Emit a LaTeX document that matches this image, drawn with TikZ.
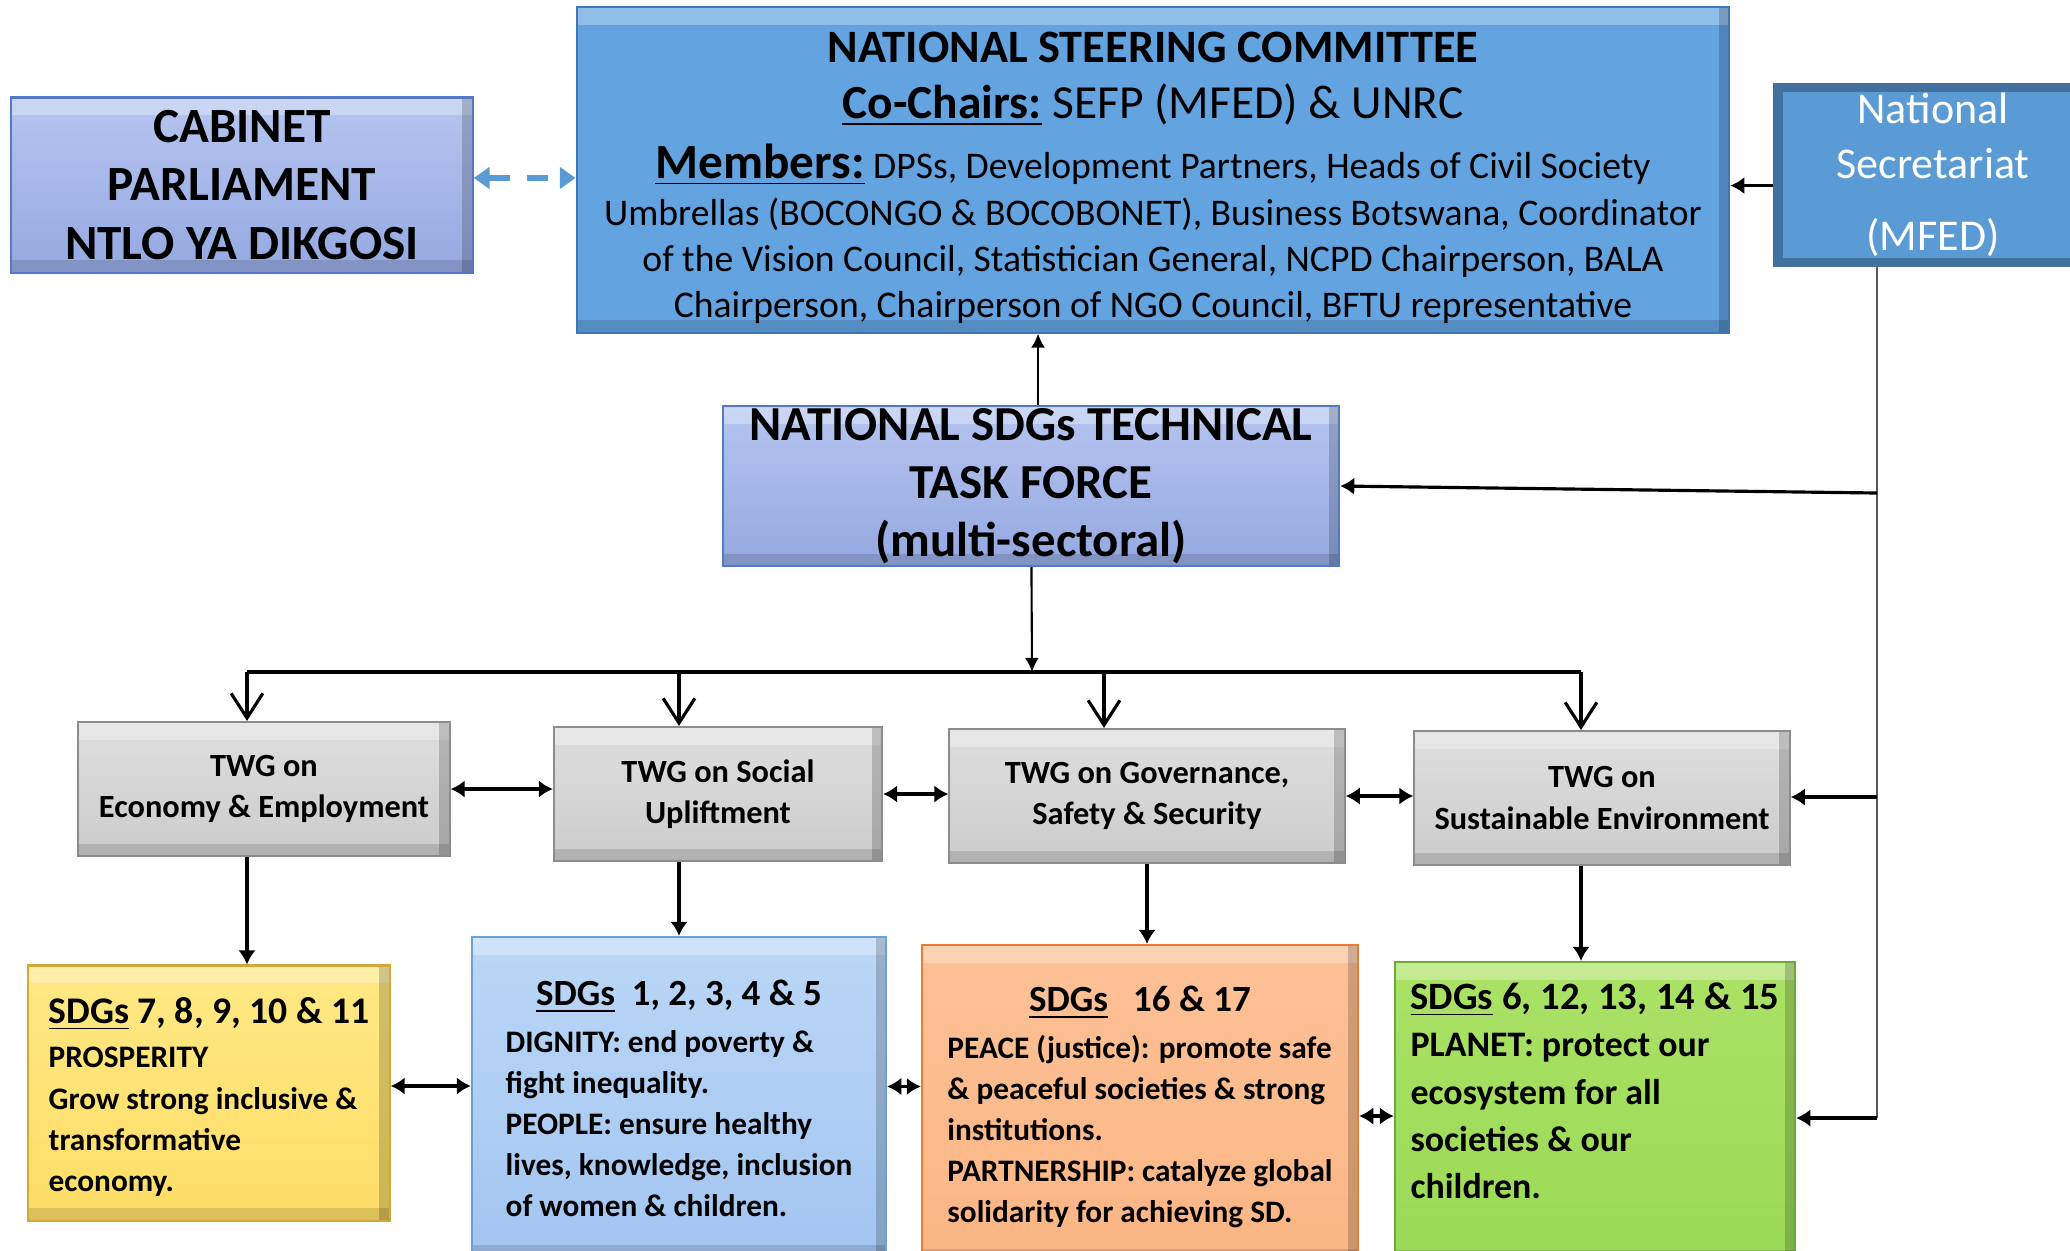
\documentclass[tikz,border=0pt]{standalone}
\usepackage{fontspec}
\setmainfont{Carlito}
\usetikzlibrary{arrows.meta}
\definecolor{cabtop}{HTML}{B6C5F0}
\definecolor{cabbot}{HTML}{94A9E1}
\definecolor{cabline}{HTML}{5279C6}
\definecolor{nscfill}{HTML}{62A3E0}
\definecolor{nscline}{HTML}{3F77B5}
\definecolor{secfill}{HTML}{5B9BD5}
\definecolor{secline}{HTML}{41719C}
\definecolor{twgtop}{HTML}{DEDEDE}
\definecolor{twgbot}{HTML}{CCCCCC}
\definecolor{twgline}{HTML}{8C8C8C}
\definecolor{yeltop}{HTML}{FFE884}
\definecolor{yelbot}{HTML}{FDDD66}
\definecolor{yelline}{HTML}{D4A836}
\definecolor{skytop}{HTML}{BBD7F7}
\definecolor{skybot}{HTML}{A2C5F0}
\definecolor{skyline}{HTML}{6E9FD8}
\definecolor{oratop}{HTML}{FDC196}
\definecolor{orabot}{HTML}{FBB584}
\definecolor{oraline}{HTML}{EC7C34}
\definecolor{grntop}{HTML}{ABE266}
\definecolor{grnbot}{HTML}{99D955}
\definecolor{grnline}{HTML}{6CA93C}
\definecolor{dashblue}{HTML}{5B9BD5}
\tikzstyle{bevel}=[path picture={
  \fill[white,opacity=.3] (path picture bounding box.north west) rectangle ([yshift=-5pt]path picture bounding box.north east);
  \fill[black,opacity=.18] ([xshift=-3pt]path picture bounding box.north east) rectangle (path picture bounding box.south east);
  \fill[black,opacity=.13] (path picture bounding box.south west) rectangle ([yshift=3.5pt]path picture bounding box.south east);
}]
\tikzstyle{box}=[rectangle, draw, line width=0.6pt, inner sep=0pt, bevel]
\tikzstyle{top}=[box, top color=cabtop, bottom color=cabbot, draw=cabline, align=center]
\tikzstyle{nscbox}=[box, fill=nscfill, draw=nscline, align=center]
\tikzstyle{secbox}=[rectangle, fill=secfill, draw=secline, line width=2.8pt, inner sep=0pt, align=center, text=white]
\tikzstyle{twg}=[box, top color=twgtop, bottom color=twgbot, draw=twgline, align=center,
  minimum height=1.34cm, font=\bfseries\fontsize{9.2}{11.7}\selectfont]
\tikzstyle{goal}=[box, font=\bfseries\fontsize{8.9}{11.7}\selectfont]
\tikzstyle{dbl}=[{Latex[length=4pt,width=5pt]}-{Latex[length=4pt,width=5pt]}, line width=1.1pt]
\tikzstyle{drop}=[-{Straight Barb[length=7pt,width=9pt]}, line width=0.9pt]
\tikzstyle{feed}=[-{Latex[length=4pt,width=5pt]}, line width=0.9pt]

\begin{document}
\begin{tikzpicture}[x=0.01cm,y=-0.01cm]
\useasboundingbox (0,0) rectangle (2070,1250);

\node[top, minimum width=4.61cm, minimum height=1.75cm, font=\bfseries\fontsize{14}{16.5}\selectfont] (cab) at (242,185) {CABINET\\PARLIAMENT\\NTLO YA DIKGOSI};
\node[nscbox, minimum width=11.52cm, minimum height=3.25cm, font=\fontsize{10.7}{13}\selectfont] (nsc) at (1153,170)
  {\rule{0pt}{13pt}{\bfseries\fontsize{13.2}{15}\selectfont NATIONAL STEERING COMMITTEE}\\[3pt]
   {\fontsize{13.5}{15}\selectfont\underline{\textbf{Co-Chairs:}} SEFP (MFED) \& UNRC}\\[4pt]
   {\fontsize{14}{15}\selectfont\underline{\textbf{Members:}}} DPSs, Development Partners, Heads of Civil Society\\[0.5pt]
   Umbrellas (BOCONGO \& BOCOBONET), Business Botswana, Coordinator\\
   of the Vision Council, Statistician General, NCPD Chairperson, BALA\\
   Chairperson, Chairperson of NGO Council, BFTU representative};
\node[secbox, minimum width=3.1cm, minimum height=1.75cm, font=\fontsize{12.5}{15.5}\selectfont] (sec) at (1933,175) {National\\Secretariat\\[5pt](MFED)};
\node[top, minimum width=6.16cm, minimum height=1.6cm, font=\bfseries\fontsize{13.9}{16.5}\selectfont] (ttf) at (1031,486) {NATIONAL SDGs TECHNICAL\\TASK FORCE\\(multi-sectoral)};

\node[twg, minimum width=3.71cm] (w1) at (264,789) {TWG on\\Economy \& Employment};
\node[twg, minimum width=3.28cm] (w2) at (718,794) {TWG on Social\\Upliftment};
\node[twg, minimum width=3.95cm] (w3) at (1147,796) {TWG on Governance,\\Safety \& Security};
\node[twg, minimum width=3.75cm] (w4) at (1602,798) {TWG on\\Sustainable Environment};

\node[goal, top color=yeltop, bottom color=yelbot, draw=yelline, minimum width=3.61cm, minimum height=2.55cm] (g1) at (209,1093)
  {\begin{tabular}{@{}l@{}}
   \rule{0pt}{11.6pt}{\fontsize{10.7}{12}\selectfont\underline{SDGs} 7, 8, 9, 10 \& 11}\\[1pt]
   PROSPERITY\\Grow strong inclusive \&\\transformative\\economy.
   \end{tabular}};
\node[goal, top color=skytop, bottom color=skybot, draw=skyline, minimum width=4.14cm, minimum height=3.2cm] (g2) at (679,1097)
  {\begin{tabular}{@{}l@{}}
   \multicolumn{1}{@{}c@{}}{\rule{0pt}{11.6pt}\fontsize{10.5}{12}\selectfont\underline{SDGs}\ \ 1, 2, 3, 4 \& 5}\\[1.5pt]
   DIGNITY: end poverty \&\\fight inequality.\\PEOPLE: ensure healthy\\lives, knowledge, inclusion\\of women \& children.
   \end{tabular}};
\node[goal, top color=oratop, bottom color=orabot, draw=oraline, minimum width=4.36cm, minimum height=3.16cm] (g3) at (1140,1103)
  {\begin{tabular}{@{}l@{}}
   \multicolumn{1}{@{}c@{}}{\rule{0pt}{11.6pt}\fontsize{10.5}{12}\selectfont\underline{SDGs}\ \ \ 16 \& 17}\\[1.5pt]
   PEACE (justice): promote safe\\\& peaceful societies \& strong\\institutions.\\PARTNERSHIP: catalyze global\\solidarity for achieving SD.
   \end{tabular}};
\node[goal, top color=grntop, bottom color=grnbot, draw=grnline, minimum width=4.0cm, minimum height=3.0cm, font=\bfseries\fontsize{10.2}{13.5}\selectfont] (g4) at (1595,1112)
  {\begin{tabular}{@{}l@{}}
   {\fontsize{11}{13.5}\selectfont\underline{SDGs} 6, 12, 13, 14 \& 15}\\
   PLANET: protect our\\ecosystem for all\\societies \& our\\children.\rule[-14pt]{0pt}{14pt}
   \end{tabular}};

\coordinate (b1) at (247,672);
\coordinate (b2) at (679,672);
\coordinate (b3) at (1104,672);
\coordinate (b4) at (1581,672);
\coordinate (bus) at (1032,672);
\coordinate (v1) at (1877,493);
\coordinate (v2) at (1877,797);
\coordinate (v3) at (1877,1118);

\draw[dashblue, line width=1.7pt, dash pattern=on 6pt off 5pt, {Triangle[length=4.5pt,width=6pt]}-{Triangle[length=4.5pt,width=6pt]}]
  ([yshift=2pt]cab.east) -- ([yshift=2pt]cab.east -| nsc.west);
\draw[-{Latex[length=4pt,width=4pt]}, line width=0.6pt] ([xshift=2pt]ttf.north) -- ([xshift=2pt]ttf.north |- nsc.south);
\draw[feed] ([yshift=-3pt]sec.west) -- ([yshift=-3pt]sec.west -| nsc.east);
\draw[-{Latex[length=4pt,width=4pt]}, line width=0.6pt] (ttf) -- (bus);
\draw[line width=1.1pt] (b1) -- (b4);
\draw[drop] (b1) -- (b1 |- w1.north);
\draw[drop] (b2) -- (b2 |- w2.north);
\draw[drop] (b3) -- (b3 |- w3.north);
\draw[drop] (b4) -- (b4 |- w4.north);
\draw[dbl] (w1.east) -- (w1.east -| w2.west);
\draw[dbl] (w2.east) -- (w2.east -| w3.west);
\draw[dbl] (w3.east) -- (w3.east -| w4.west);
\draw[feed] (w1.south -| b1) -- (b1 |- g1.north);
\draw[feed] (w2.south -| b2) -- (b2 |- g2.north);
\draw[feed] (w3) -- (w3 |- g3.north);
\draw[feed] (w4.south -| b4) -- (b4 |- g4.north);
\draw[dbl] ([yshift=2pt]g1.east) -- ([yshift=2pt]g1.east -| g2.west);
\draw[dbl] ([yshift=3pt]g2.east) -- ([yshift=3pt]g2.east -| g3.west);
\draw[dbl] ([yshift=-3.7pt]g3.east) -- ([yshift=-3.7pt]g3.east -| g4.west);
\draw[gray!70!black, line width=0.45pt] (sec.south -| v3) -- (v3); %% shared feed line from the secretariat
\draw[feed] (v1) -- (ttf.east);
\draw[feed] (v2) -- (v2 -| w4.east);
\draw[feed] (v3) -- (v3 -| g4.east);

\end{tikzpicture}
\end{document}
